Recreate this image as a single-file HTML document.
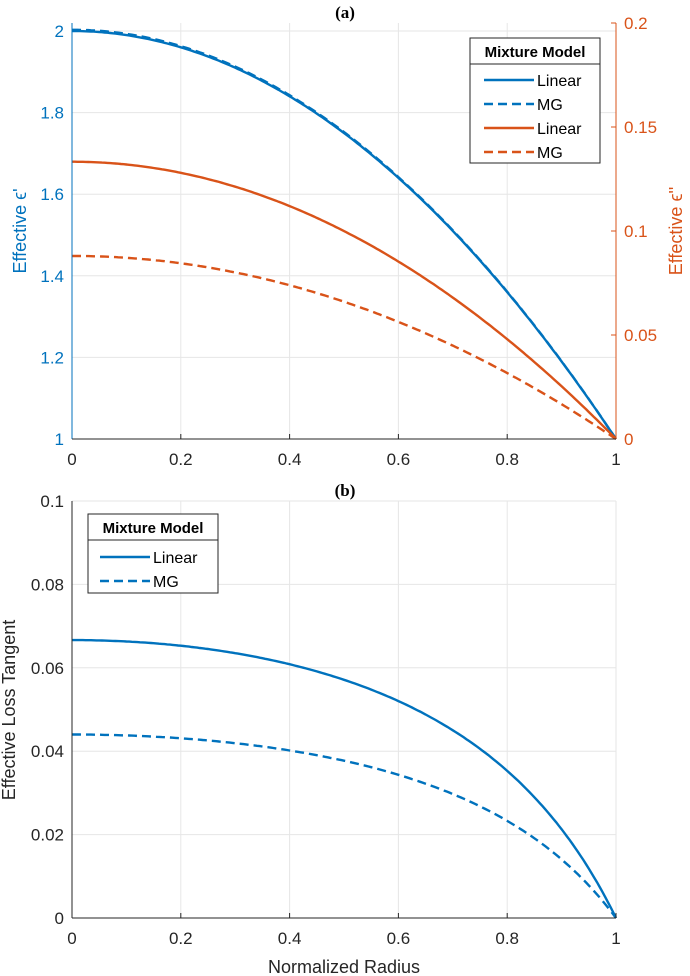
<!DOCTYPE html>
<html><head><meta charset="utf-8"><style>
html,body{margin:0;padding:0;background:#fff;}
svg{display:block;font-family:"Liberation Sans",Arial,sans-serif;}
</style></head><body>
<svg id="s" width="690" height="976" viewBox="0 0 690 976" xmlns="http://www.w3.org/2000/svg">
<rect width="690" height="976" fill="#fff"/>
<g id="grid" stroke="#e6e6e6" stroke-width="1"></g>
<g id="curves" fill="none" stroke-width="2.4"></g>
<g id="axes"></g>
<text x="345" y="18" text-anchor="middle" font-family="Liberation Serif,serif" font-weight="bold" font-size="17">(a)</text>
<text x="345" y="496" text-anchor="middle" font-family="Liberation Serif,serif" font-weight="bold" font-size="17">(b)</text>
<text transform="translate(26,231) rotate(-90)" text-anchor="middle" font-size="18" fill="#0072BD">Effective ϵ'</text>
<text transform="translate(682,231) rotate(-90)" text-anchor="middle" font-size="18" fill="#D95319">Effective ϵ''</text>
<text transform="translate(15,710) rotate(-90)" text-anchor="middle" font-size="18" fill="#262626">Effective Loss Tangent</text>
<text x="344" y="973" text-anchor="middle" font-size="18" fill="#262626">Normalized Radius</text>
<rect x="470" y="38" width="130" height="125" fill="#fff" stroke="#262626" stroke-width="1"/>
<line x1="470" y1="64" x2="600" y2="64" stroke="#262626"/>
<text x="535" y="57" text-anchor="middle" font-size="15" font-weight="bold">Mixture Model</text>
<line x1="484" y1="80" x2="534" y2="80" stroke="#0072BD" stroke-width="2.4"/>
<text x="537" y="86" font-size="16">Linear</text>
<line x1="484" y1="104" x2="534" y2="104" stroke="#0072BD" stroke-width="2.4" stroke-dasharray="9,5"/>
<text x="537" y="110" font-size="16">MG</text>
<line x1="484" y1="128" x2="534" y2="128" stroke="#D95319" stroke-width="2.4"/>
<text x="537" y="134" font-size="16">Linear</text>
<line x1="484" y1="152" x2="534" y2="152" stroke="#D95319" stroke-width="2.4" stroke-dasharray="9,5"/>
<text x="537" y="158" font-size="16">MG</text>
<rect x="88" y="514" width="130" height="79" fill="#fff" stroke="#262626" stroke-width="1"/>
<line x1="88" y1="540" x2="218" y2="540" stroke="#262626"/>
<text x="153" y="533" text-anchor="middle" font-size="15" font-weight="bold">Mixture Model</text>
<line x1="100" y1="557" x2="150" y2="557" stroke="#0072BD" stroke-width="2.4"/>
<text x="153" y="563" font-size="16">Linear</text>
<line x1="100" y1="581" x2="150" y2="581" stroke="#0072BD" stroke-width="2.4" stroke-dasharray="9,5"/>
<text x="153" y="587" font-size="16">MG</text>
</svg>
<script>
var NS="http://www.w3.org/2000/svg";
function el(p,t,a,txt){var e=document.createElementNS(NS,t);for(var k in a)e.setAttribute(k,a[k]);if(txt!==undefined)e.textContent=txt;document.getElementById(p).appendChild(e);return e;}
var L=72,R=616;
function X(r){return L+r*(R-L);}
var aT=23,aB=439;
function Ya(v){return aB-(v-1)*(aB-aT)/1.0196;}
function Yr(v){return aB-v*(aB-aT)/0.2;}
var bT=501,bB=918;
function Yb(v){return bB-v*(bB-bT)/0.1;}
var FS="17";
[0,0.2,0.4,0.6,0.8,1].forEach(function(r){
 el("grid","line",{x1:X(r),y1:aT,x2:X(r),y2:aB});
 el("grid","line",{x1:X(r),y1:bT,x2:X(r),y2:bB});
 el("axes","text",{x:X(r),y:aB+26,"text-anchor":"middle","font-size":FS,fill:"#262626"},String(r));
 el("axes","text",{x:X(r),y:bB+26,"text-anchor":"middle","font-size":FS,fill:"#262626"},String(r));
 el("axes","line",{x1:X(r),y1:aB,x2:X(r),y2:aB-5,stroke:"#262626"});
 el("axes","line",{x1:X(r),y1:bB,x2:X(r),y2:bB-5,stroke:"#262626"});
});
[1,1.2,1.4,1.6,1.8,2].forEach(function(v){
 el("grid","line",{x1:L,y1:Ya(v),x2:R,y2:Ya(v)});
 el("axes","text",{x:L-8,y:Ya(v)+6,"text-anchor":"end","font-size":FS,fill:"#0072BD"},String(v));
});
[0,0.05,0.1,0.15,0.2].forEach(function(v){
 el("axes","text",{x:R+8,y:Yr(v)+6,"font-size":FS,fill:"#D95319"},String(v));
 el("axes","line",{x1:R,y1:Yr(v),x2:R-5,y2:Yr(v),stroke:"#D95319"});
});
[0,0.02,0.04,0.06,0.08,0.1].forEach(function(v){
 el("grid","line",{x1:L,y1:Yb(v),x2:R,y2:Yb(v)});
 el("axes","text",{x:L-8,y:Yb(v)+6,"text-anchor":"end","font-size":FS,fill:"#262626"},String(v));
});
el("axes","line",{x1:L,y1:aT,x2:L,y2:aB,stroke:"#0072BD"});
el("axes","line",{x1:R,y1:aT,x2:R,y2:aB,stroke:"#D95319"});
el("axes","line",{x1:L,y1:aB,x2:R,y2:aB,stroke:"#262626"});
el("axes","line",{x1:L,y1:bT,x2:L,y2:bB,stroke:"#262626"});
el("axes","line",{x1:L,y1:bB,x2:R,y2:bB,stroke:"#262626"});
function poly(f,Y,col,dash){var p=[];for(var i=0;i<=200;i++){var r=i/200;p.push(X(r).toFixed(1)+","+Y(f(r)).toFixed(1));}
 var a={points:p.join(" "),stroke:col};if(dash)a["stroke-dasharray"]="9,5";el("curves","polyline",a);}
var B="#0072BD",O="#D95319";
poly(function(r){return 2-r*r;},Ya,B,false);
poly(function(r){return 2.003-1.003*r*r;},Ya,B,true);
poly(function(r){return 0.1333*(1-r*r);},Yr,O,false);
poly(function(r){return 0.088*(1-r*r);},Yr,O,true);
poly(function(r){return 0.1333*(1-r*r)/(2-r*r);},Yb,B,false);
poly(function(r){return 0.088*(1-r*r)/(2-r*r);},Yb,B,true);
</script>
</body></html>
